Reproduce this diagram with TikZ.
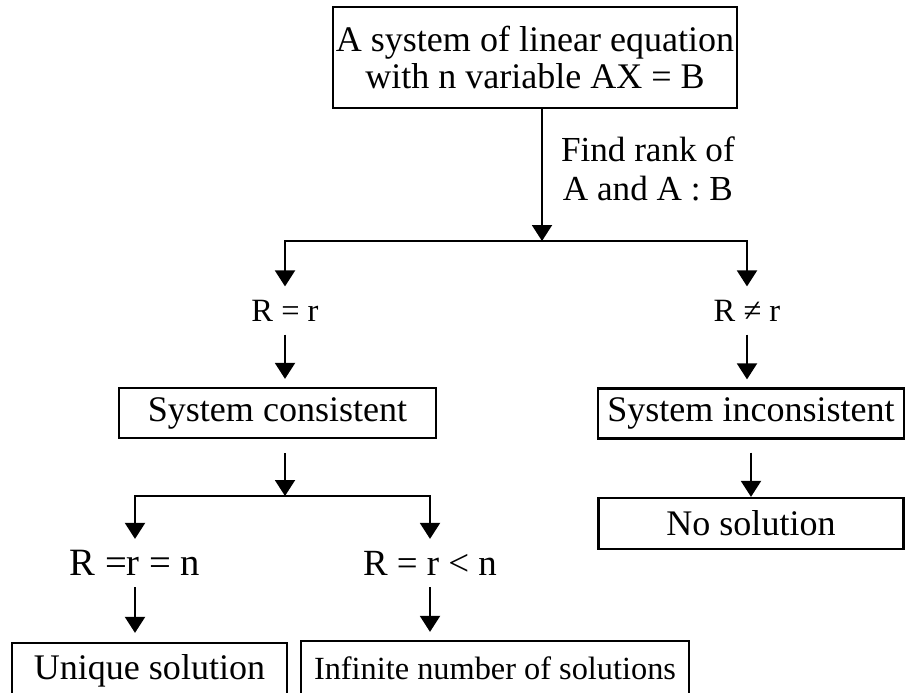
\documentclass[tikz,border=0pt]{standalone}
\usepackage{fontspec}
\setmainfont{Liberation Serif}
\usetikzlibrary{arrows.meta,positioning}

\begin{document}
\begin{tikzpicture}[
    x=0.2mm, y=-0.2mm,
    box/.style={draw=black, line width=0.45mm, inner sep=0pt, minimum height=10mm,
                align=center, font=\fontsize{20.5}{21}\selectfont},
    arr/.style={-{Triangle[length=3.2mm,width=4mm]}, line width=0.4mm},
    cond/.style={inner sep=0pt, minimum height=9.5mm, font=\fontsize{18.5}{20}\selectfont},
    lbl/.style={inner sep=0pt, align=center, font=\fontsize{20}{22.2}\selectfont}
]
\useasboundingbox (0,0) rectangle (906,692);

\node[box, minimum width=80.8mm, minimum height=20.2mm] (sys) at (535,57.5) {A system of linear equation\\with n variable AX = B};
\coordinate (fork1) at (542,241);
\draw[arr] (sys.south -| fork1) -- (fork1) node[lbl, pos=0.45, right=3.6mm] {Find rank of\\A and A : B};

\node[cond] (req) at (285,310.5) {R = r};
\node[cond] (rne) at (747,310.5) {R ≠ r};
\draw[arr] (fork1) -| (req.north);
\draw[arr] (fork1) -| (rne.north);

\node[box, minimum width=63.4mm] (cons) at (277.5,413) {System consistent};
\node[box, minimum width=61.2mm] (incons) at (751,413.5) {System inconsistent};
\node[box, minimum width=61mm, minimum height=10.2mm] (nosol) at (751,523.5) {No solution};
\draw[arr, shorten >=1.6mm] (req.south) -- (req.south |- cons.north);
\draw[arr, shorten >=1.6mm] (rne.south) -- (rne.south |- incons.north);
\draw[arr, shorten <=2.6mm] (incons.south) -- (nosol.north);

% consistent case
\coordinate (fork2) at (285,496);
\draw[arr, shorten <=2.8mm] (cons.south -| fork2) -- (fork2);
\node[cond, font=\fontsize{22}{24}\selectfont] (full) at (135,563) {R =r = n};
\node[cond, font=\fontsize{21}{24}\selectfont] (part) at (430,563) {R = r < n};
\draw[arr] (fork2) -| (full.north);
\draw[arr] (fork2) -| (part.north);

\node[box, minimum width=55mm, minimum height=11mm] (uniq) at (149.5,670.5) {Unique solution};
\node[box, minimum width=77.6mm, minimum height=11mm, font=\fontsize{18.4}{20}\selectfont] (inf) at (495,668.5) {Infinite number of solutions};
\draw[arr, shorten >=1.8mm] (full.south) -- (full.south |- uniq.north);
\draw[arr, shorten >=1.6mm] (part.south) -- (part.south |- inf.north);
\end{tikzpicture}
\end{document}
